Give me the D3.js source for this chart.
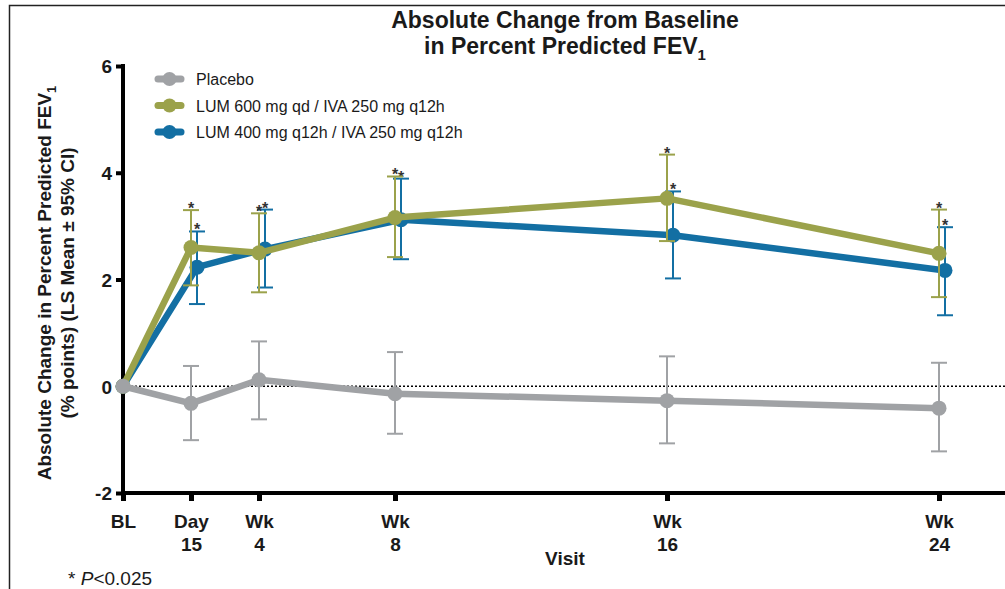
<!DOCTYPE html>
<html>
  <head>
    <meta charset="UTF-8">
    <title>FEV1 change</title>
    <style>
      body { margin: 0; background: #fff; }
      svg text { font-family: "Liberation Sans", Arial, sans-serif; fill: #1a1a1a; }
      .tick-label { font-size: 19px; font-weight: bold; }
      .title { font-size: 23px; font-weight: bold; text-anchor: middle; }
      .ylab { font-size: 19px; font-weight: bold; text-anchor: middle; }
      .legend text { font-size: 16px; }
      .star { font-size: 16px; font-weight: bold; text-anchor: middle; fill: #333; }
    </style>
    <script src="https://d3js.org/d3.v7.min.js"></script>
  </head>
  <body>
    <div id="chart"></div>
    <script>
      // visit timing in weeks
      var weeks = [0, 2, 4, 8, 16, 24];
      var visitLine1 = ["BL", "Day", "Wk", "Wk", "Wk", "Wk"];
      var visitLine2 = ["", "15", "4", "8", "16", "24"];
      var yTicks = [-2, 0, 2, 4, 6];

      var placeboMean = [0, -0.32, 0.12, -0.14, -0.27, -0.41];
      var placeboLo   = [null, -1.01, -0.62, -0.89, -1.07, -1.22];
      var placeboHi   = [null, 0.38, 0.84, 0.64, 0.56, 0.44];

      var lum600Mean = [0, 2.60, 2.50, 3.16, 3.52, 2.49];
      var lum600Lo   = [null, 1.89, 1.76, 2.42, 2.72, 1.67];
      var lum600Hi   = [null, 3.30, 3.24, 3.93, 4.34, 3.31];

      var lum400Mean = [0, 2.23, 2.57, 3.12, 2.83, 2.17];
      var lum400Lo   = [null, 1.54, 1.85, 2.38, 2.02, 1.33];
      var lum400Hi   = [null, 2.90, 3.31, 3.89, 3.65, 2.98];

      // P<0.025 flags
      var lum600Sig = [false, true, true, true, true, true];
      var lum400Sig = [false, true, true, true, true, true];

      var width = 1005, height = 589;

      var svg = d3.select("#chart").append("svg")
        .attr("width", width)
        .attr("height", height);

      var x = d3.scaleLinear().domain([0, 26]).range([123, 1007]);
      var y = d3.scaleLinear().domain([-2, 6]).range([493, 66]);

      // frame (top and left)
      svg.append("path")
        .attr("d", "M9.5,589 V5.5 H1005")
        .attr("fill", "none")
        .attr("stroke", "#222")
        .attr("stroke-width", 1.5);

      // title
      var title = svg.append("text").attr("class", "title").attr("x", 565).attr("y", 28);
      title.append("tspan").attr("x", 565).text("Absolute Change from Baseline");
      title.append("tspan").attr("x", 565).attr("dy", 26).text("in Percent Predicted FEV");
      title.append("tspan").attr("dy", 6).style("font-size", "15px").text("1");

      // y axis label
      var yl = svg.append("text").attr("class", "ylab")
        .attr("transform", "translate(51,283) rotate(-90)");
      yl.append("tspan").attr("x", 0).attr("y", 0).text("Absolute Change in Percent Predicted FEV");
      yl.append("tspan").attr("dy", 5).style("font-size", "13px").text("1");
      yl.append("tspan").attr("x", 0).attr("y", 23).text("(% points) (LS Mean \u00b1 95% CI)");

      // y axis
      var yAxis = svg.append("g")
        .attr("transform", "translate(123,0)")
        .call(d3.axisLeft(y).tickValues(yTicks).tickSize(7).tickPadding(4).tickFormat(function(d) { return String(d); }));
      yAxis.select(".domain").attr("stroke", "#000").attr("stroke-width", 4)
        .attr("d", "M0," + (y(6) - 2) + "V" + (y(-2) + 2));
      yAxis.selectAll(".tick line").attr("stroke", "#000").attr("stroke-width", 4);
      yAxis.selectAll(".tick text").attr("class", "tick-label").attr("dy", "0.36em");

      // x axis
      var xAxis = svg.append("g")
        .attr("transform", "translate(0,493)")
        .call(d3.axisBottom(x).tickValues(weeks).tickSize(8).tickFormat(""));
      xAxis.select(".domain").attr("stroke", "#000").attr("stroke-width", 4)
        .attr("d", "M" + (x(0) - 2) + ",0H1005");
      xAxis.selectAll(".tick line").attr("stroke", "#000").attr("stroke-width", 5);
      var xt = xAxis.selectAll(".tick");
      xt.append("text").attr("class", "tick-label").attr("y", 35).attr("text-anchor", "middle")
        .text(function(d, i) { return visitLine1[i]; });
      xt.append("text").attr("class", "tick-label").attr("y", 58).attr("text-anchor", "middle")
        .text(function(d, i) { return visitLine2[i]; });

      svg.append("text").attr("class", "tick-label").attr("x", 565).attr("y", 565)
        .attr("text-anchor", "middle").text("Visit");

      // zero reference line
      svg.append("line")
        .attr("x1", x(0)).attr("x2", 1005)
        .attr("y1", y(0)).attr("y2", y(0))
        .attr("stroke", "#000").attr("stroke-width", 1.5)
        .attr("stroke-dasharray", "2,2");

      function series(mean, lo, hi, sig, color, dx) {
        var pts = weeks.map(function(w, i) {
          return { x: x(w) + (i === 0 ? 0 : dx), m: mean[i], lo: lo[i], hi: hi[i], sig: sig ? sig[i] : false };
        });
        var g = svg.append("g");
        g.append("path")
          .datum(pts)
          .attr("fill", "none")
          .attr("stroke", color)
          .attr("stroke-width", 6.5)
          .attr("stroke-linejoin", "round")
          .attr("d", d3.line().x(function(d) { return d.x; }).y(function(d) { return y(d.m); }));
        var bars = g.selectAll(".err").data(pts.filter(function(d) { return d.lo !== null; }))
          .enter().append("g");
        bars.append("line").attr("x1", function(d) { return d.x; }).attr("x2", function(d) { return d.x; })
          .attr("y1", function(d) { return y(d.lo); }).attr("y2", function(d) { return y(d.hi); })
          .attr("stroke", color).attr("stroke-width", 2);
        ["lo", "hi"].forEach(function(k) {
          bars.append("line")
            .attr("x1", function(d) { return d.x - 8; }).attr("x2", function(d) { return d.x + 8; })
            .attr("y1", function(d) { return y(d[k]); }).attr("y2", function(d) { return y(d[k]); })
            .attr("stroke", color).attr("stroke-width", 2);
        });
        bars.filter(function(d) { return d.sig; }).append("text")
          .attr("class", "star")
          .attr("x", function(d) { return d.x; })
          .attr("y", function(d) { return y(d.hi) + 4; })
          .text("*");
        g.selectAll(".pt").data(pts).enter().append("circle")
          .attr("cx", function(d) { return d.x; })
          .attr("cy", function(d) { return y(d.m); })
          .attr("r", 7.5)
          .attr("fill", color);
      }

      var cPlacebo = "#a0a2a5", c600 = "#9ba24b", c400 = "#136fa3";
      series(lum400Mean, lum400Lo, lum400Hi, lum400Sig, c400, 6);
      series(lum600Mean, lum600Lo, lum600Hi, lum600Sig, c600, 0);
      series(placeboMean, placeboLo, placeboHi, null, cPlacebo, 0);

      // legend
      var legendNames = ["Placebo", "LUM 600 mg qd / IVA 250 mg q12h", "LUM 400 mg q12h / IVA 250 mg q12h"];
      var legendColors = [cPlacebo, c600, c400];
      var legend = svg.append("g").attr("class", "legend");
      var li = legend.selectAll("g").data(legendNames).enter().append("g")
        .attr("transform", function(d, i) { return "translate(0," + (79 + i * 26.5) + ")"; });
      li.append("line").attr("x1", 158).attr("x2", 181).attr("y1", 0).attr("y2", 0)
        .attr("stroke", function(d, i) { return legendColors[i]; })
        .attr("stroke-width", 7).attr("stroke-linecap", "round");
      li.append("circle").attr("cx", 169.5).attr("cy", 0).attr("r", 7)
        .attr("fill", function(d, i) { return legendColors[i]; });
      li.append("text").attr("x", 196).attr("y", 6).text(function(d) { return d; });

      // footnote
      var fn = svg.append("text").attr("x", 68).attr("y", 585).style("font-size", "19px");
      fn.append("tspan").text("* ");
      fn.append("tspan").style("font-style", "italic").text("P");
      fn.append("tspan").text("<0.025");
    </script>
  </body>
</html>
